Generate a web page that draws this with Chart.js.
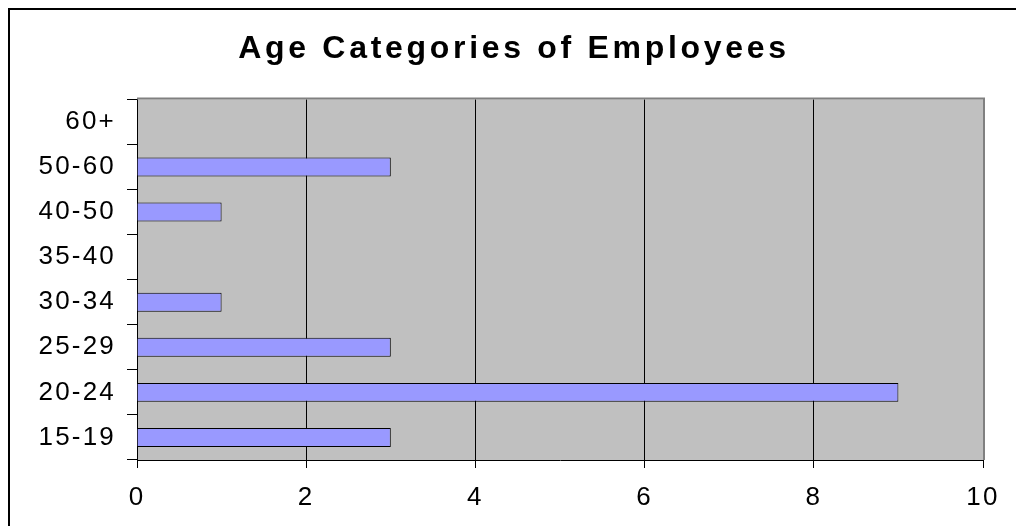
<!DOCTYPE html>
<html>
<head>
<meta charset="utf-8">
<script src="https://cdn.jsdelivr.net/npm/chart.js@4"></script>
<style>
  html, body { margin: 0; padding: 0; background: #fff; overflow: hidden; }
  #frame { position: absolute; left: 8px; top: 8px; width: 1040px; height: 560px; border-left: 2px solid #000; border-top: 2px solid #000; }
  #chart { position: absolute; left: 0; top: 0; }
</style>
</head>
<body>
<div id="frame"></div>
<canvas id="chart" width="1016" height="526"></canvas>
<script>
const ageGroups = ['15-19', '20-24', '25-29', '30-34', '35-40', '40-50', '50-60', '60+'];
const employeeCounts = [3, 9, 3, 1, 0, 1, 3, 0];
const xMin = 0, xMax = 10, xStep = 2;
const chartTitle = 'Age Categories of Employees';

// the original text is a bit wide, so space the letters out a little
const wideText = {
    id: 'wideText',
    afterInit(chart) {
        const tb = chart.titleBlock;
        if (!tb) return;
        const draw = tb.draw.bind(tb);
        tb.draw = (area) => {
            const c = chart.ctx, prev = c.letterSpacing;
            c.letterSpacing = '3.7px';
            draw(area);
            c.letterSpacing = prev;
        };
    },
    beforeDraw(chart) { chart.ctx.letterSpacing = '2.2px'; }
};

// grey plot area with grey top/right edge, like the old spreadsheet look
const plotBg = {
    id: 'plotBg',
    beforeDraw(chart) {
        const { ctx, chartArea: a } = chart;
        ctx.save();
        ctx.fillStyle = '#c0c0c0';
        ctx.fillRect(a.left, a.top, a.right - a.left, a.bottom - a.top);
        ctx.restore();
    },
    afterDraw(chart) {
        const { ctx, chartArea: a } = chart;
        ctx.save();
        ctx.strokeStyle = '#808080';
        ctx.lineWidth = 2;
        ctx.beginPath();
        ctx.moveTo(a.left, a.top - 1);
        ctx.lineTo(a.right + 1, a.top - 1);
        ctx.lineTo(a.right + 1, a.bottom);
        ctx.stroke();
        ctx.restore();
    }
};

window.onload = () => {
    const chart = new Chart(document.getElementById('chart'), {
        type: 'bar',
        data: {
            labels: ageGroups,
            datasets: [{
                data: employeeCounts,
                backgroundColor: '#9999ff',
                borderColor: '#000',
                borderWidth: 1,
                categoryPercentage: 1,
                barPercentage: 0.42
            }]
        },
        options: {
            indexAxis: 'y',
            responsive: false,
            animation: false,
            layout: { padding: { left: 45, right: 33, top: 0, bottom: 0 } },
            plugins: {
                legend: { display: false },
                tooltip: { enabled: false },
                title: {
                    display: true,
                    text: chartTitle,
                    color: '#000',
                    font: { family: 'Liberation Sans, Arial, sans-serif', size: 32, weight: 'bold' },
                    padding: { top: 30, bottom: 31 }
                }
            },
            scales: {
                x: {
                    min: xMin, max: xMax,
                    ticks: { stepSize: xStep, color: '#000', padding: 14, font: { family: 'Liberation Sans, Arial, sans-serif', size: 26 } },
                    grid: { color: '#000', tickColor: '#000', tickLength: 8 },
                    border: { color: '#000', width: 1 },
                    afterFit: s => { s.height = 66; }
                },
                y: {
                    reverse: true,
                    ticks: { color: '#000', padding: 11, font: { family: 'Liberation Sans, Arial, sans-serif', size: 26 } },
                    grid: { drawOnChartArea: false, tickColor: '#000', tickLength: 10 },
                    border: { color: '#000', width: 1 },
                    afterFit: s => {
                        s.width = 92;
                        s._computeLabelArea = () => undefined; // labels run past the left padding
                    }
                }
            }
        },
        plugins: [wideText, plotBg]
    });
    chart.draw();
};
</script>
</body>
</html>
